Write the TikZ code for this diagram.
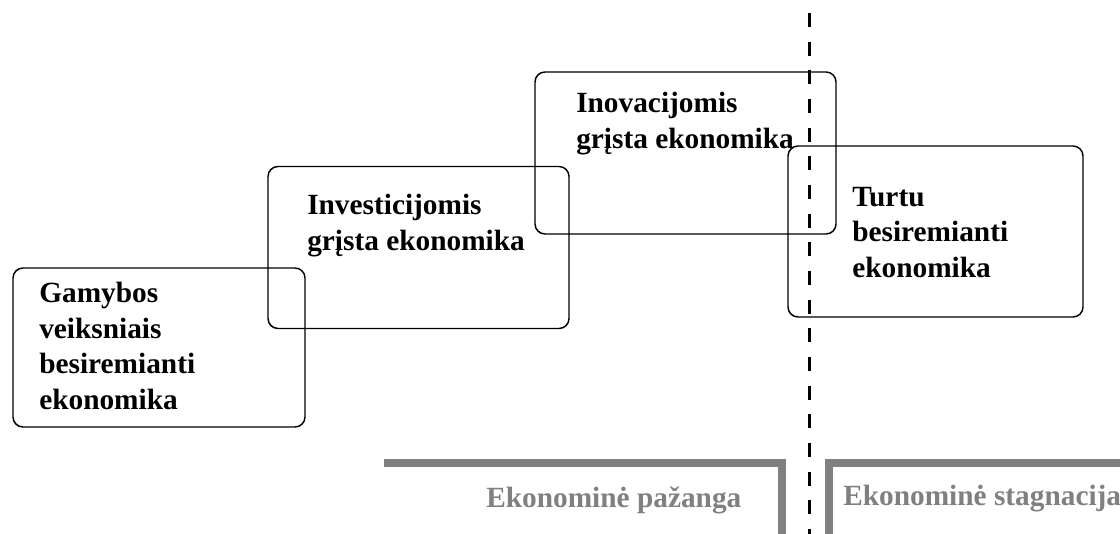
\documentclass[tikz,border=0pt]{standalone}
\usepackage{fontspec}
\setmainfont{Liberation Serif}
\usepackage{tikz}
\usetikzlibrary{fit}
\definecolor{zonegray}{HTML}{808080}

\begin{document}
\begin{tikzpicture}[
      x=0.75pt, y=-0.75pt,
      stage/.style={rectangle, draw=black, line width=1.1pt, rounded corners=7.5pt, inner sep=0pt},
      stagetext/.style={anchor=north west, align=left, inner sep=0pt, font=\fontsize{22}{26.6}\selectfont\bfseries},
      zonetext/.style={anchor=base west, inner sep=0pt, text=zonegray, font=\fontsize{22}{26.6}\selectfont\bfseries},
      zone/.style={draw=zonegray, line width=6pt},
      divider/.style={draw=black, line width=2.25pt, dash pattern=on 10.5pt off 11pt}
      ]
      \useasboundingbox (0,0) rectangle (1120,534);
      % stages
      \node[stage, fit={(13,268) (305,427)}] (GAM) {};
      \node[stage, fit={(268,166.5) (569,328.5)}] (INV) {};
      \node[stage, fit={(535,72) (836,234)}] (INO) {};
      \node[stage, fit={(788,146) (1083,317)}] (TUR) {};
      \node[stagetext] (GAMT) at (39,282) {Gamybos\\veiksniais\\besiremianti\\ekonomika};
      \node[stagetext] (INVT) at (307,194) {Investicijomis\\grįsta ekonomika};
      \node[stagetext] (INOT) at (576,92) {Inovacijomis\\grįsta ekonomika};
      \node[stagetext] (TURT) at (852,187) {Turtu\\besiremianti\\ekonomika};
      % zones
      \coordinate (TOP) at (809,13);
      \coordinate (BOT) at (809,534);
      \draw[divider] (TOP) -- (BOT);
      \draw[zone] (384,462.5) -| (781.5,534);
      \draw[zone] (829,534) |- (1120,462.5);
      \node[zonetext] (PAZ) at (486,507) {Ekonominė pažanga};
      \node[zonetext] (STA) at (843,505) {Ekonominė stagnacija};
    \end{tikzpicture}
\end{document}
